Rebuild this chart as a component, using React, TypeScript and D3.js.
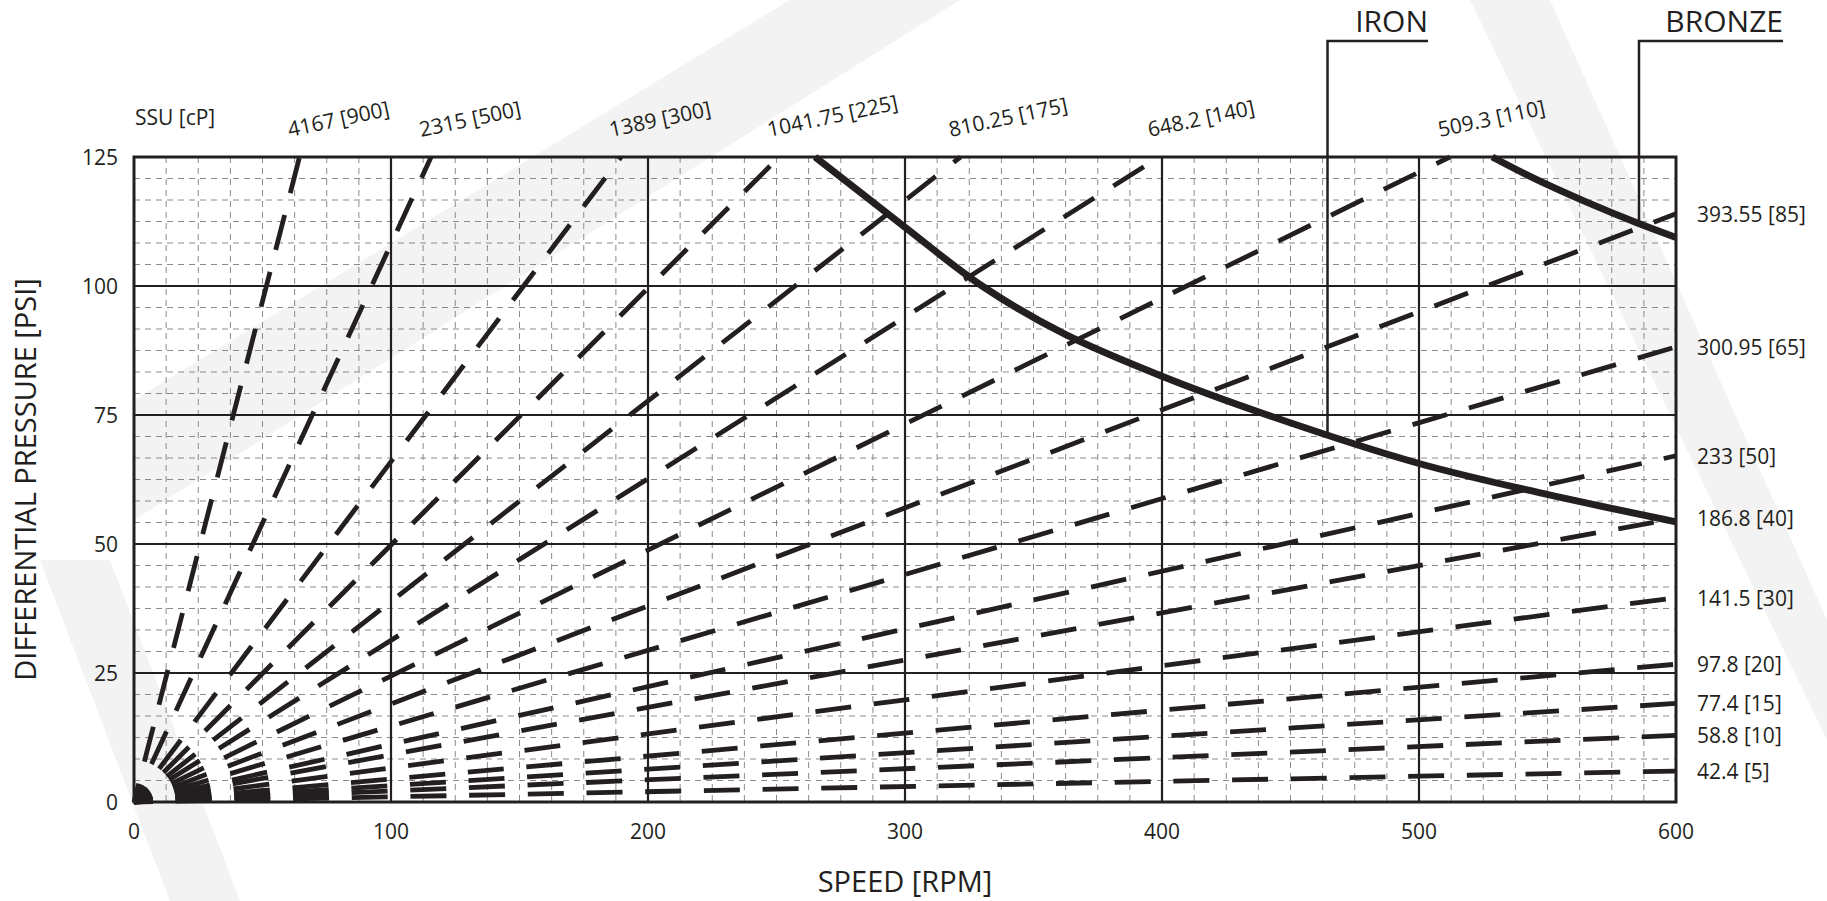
import React from 'react';
import * as d3 from 'd3';

// viscosity lines, SSU [cP]: straight from the origin to where they leave the grid
const ssuLabels = ['4167', '2315', '1389', '1041.75', '810.25', '648.2', '509.3', '393.55', '300.95', '233', '186.8', '141.5', '97.8', '77.4', '58.8', '42.4'];
const cpLabels = [900, 500, 300, 225, 175, 140, 110, 85, 65, 50, 40, 30, 20, 15, 10, 5];
const exitRpm = [64.4, 115.6, 189.5, 251, 321.6, 399, 512, 600, 600, 600, 600, 600, 600, 600, 600, 600];
const exitPsi = [125, 125, 125, 125, 125, 125, 125, 114, 88.2, 67.1, 55, 39.6, 26.7, 19.1, 12.9, 6];

// max pressure curves
const ironRpm = [265, 300, 330, 362, 400, 441, 500, 549, 600];
const ironPsi = [125, 111.4, 100, 90.7, 82.5, 75, 65.6, 59.7, 54.3];
const bronzeRpm = [528.5, 545, 565, 585, 600];
const bronzePsi = [125, 120.8, 116.3, 112.2, 109.4];

// where the leader lines touch the curves
const calloutNames = ['IRON', 'BRONZE'];
const calloutRpm = [464.4, 585.6];
const calloutPsi = [71.3, 112.1];

const xTicks = [0, 100, 200, 300, 400, 500, 600];
const yTicks = [0, 25, 50, 75, 100, 125];

const W = 1827;
const H = 901;
const ink = '#231f20';
const font = '"Open Sans", "DejaVu Sans", sans-serif';

const App: React.FC = () => {
  const x = d3.scaleLinear().domain([0, 600]).range([134, 1676]);
  const y = d3.scaleLinear().domain([0, 125]).range([802, 157]);

  const xMinor = d3.range(0, 600, 12.5).filter(v => v % 100 !== 0);
  const yMinor = d3.range(0, 125, 25 / 6).filter((_, i) => i % 6 !== 0);

  const curve = d3.line<[number, number]>()
    .x(d => x(d[0]))
    .y(d => y(d[1]))
    .curve(d3.curveCatmullRom);

  const iron = curve(ironRpm.map((r, i) => [r, ironPsi[i]]) as [number, number][]) || '';
  const bronze = curve(bronzeRpm.map((r, i) => [r, bronzePsi[i]]) as [number, number][]) || '';

  // leader lines run up to y=41 and then right to the label end
  const labelEnd = [1428, 1783];

  return (
    <svg width={W} height={H} style={{ position: 'absolute', left: 0, top: 0, background: '#fff' }}>
      {/* faint logo watermark */}
      <g fill="#f3f3f3">
        <polygon points="134,400 134,520 960,0 790,0" />
        <polygon points="1470,0 1550,0 1827,620 1827,740" />
        <polygon points="40,560 110,560 240,901 170,901" />
      </g>

      {/* minor grid */}
      <g stroke="#8a8a8a" strokeWidth={1} strokeDasharray="6 5">
        {xMinor.map(v => (
          <line key={'xm' + v} x1={x(v)} x2={x(v)} y1={y(125)} y2={y(0)} />
        ))}
        {yMinor.map(v => (
          <line key={'ym' + v} x1={x(0)} x2={x(600)} y1={y(v)} y2={y(v)} />
        ))}
      </g>

      {/* major grid */}
      <g stroke={ink} strokeWidth={2.2}>
        {xTicks.slice(1, -1).map(v => (
          <line key={'xg' + v} x1={x(v)} x2={x(v)} y1={y(125)} y2={y(0)} />
        ))}
        {yTicks.slice(1, -1).map(v => (
          <line key={'yg' + v} x1={x(0)} x2={x(600)} y1={y(v)} y2={y(v)} />
        ))}
      </g>

      {/* viscosity lines */}
      <g stroke={ink} strokeWidth={4.8} strokeDasharray="36 22.7" strokeDashoffset={17}>
        {ssuLabels.map((s, i) => (
          <line key={'v' + s} x1={x(0)} y1={y(0)} x2={x(exitRpm[i])} y2={y(exitPsi[i])} />
        ))}
      </g>

      {/* max pressure curves */}
      <path d={iron} fill="none" stroke={ink} strokeWidth={7} />
      <path d={bronze} fill="none" stroke={ink} strokeWidth={7} />

      {/* callouts */}
      {calloutNames.map((n, i) => (
        <g key={n}>
          <polyline
            points={`${x(calloutRpm[i])},${y(calloutPsi[i])} ${x(calloutRpm[i])},41 ${labelEnd[i]},41`}
            fill="none" stroke={ink} strokeWidth={2.5}
          />
          <text x={labelEnd[i]} y={32} textAnchor="end" fontFamily={font} fontSize={30} fill={ink}>{n}</text>
        </g>
      ))}

      {/* plot frame */}
      <rect x={x(0)} y={y(125)} width={x(600) - x(0)} height={y(0) - y(125)} fill="none" stroke={ink} strokeWidth={3} />

      {/* axes */}
      <g fontFamily={font} fontSize={21} fill={ink}>
        {xTicks.map(v => (
          <text key={'xt' + v} x={x(v)} y={831} textAnchor="middle" dominantBaseline="central">{v}</text>
        ))}
        {yTicks.map(v => (
          <text key={'yt' + v} x={118} y={y(v)} textAnchor="end" dominantBaseline="central">{v}</text>
        ))}
      </g>
      <text x={(x(0) + x(600)) / 2} y={880} textAnchor="middle" dominantBaseline="central" fontFamily={font} fontSize={29} fill={ink}>SPEED [RPM]</text>
      <text transform={`translate(24,${(y(0) + y(125)) / 2}) rotate(-90)`} textAnchor="middle" dominantBaseline="central" fontFamily={font} fontSize={29} fill={ink}>DIFFERENTIAL PRESSURE [PSI]</text>

      {/* viscosity labels */}
      <g fontFamily={font} fontSize={21} fill={ink}>
        <text x={135} y={125}>SSU [cP]</text>
        {ssuLabels.map((s, i) => exitPsi[i] === 125 ? (
          <text key={'tl' + s} transform={`translate(${x(exitRpm[i]) - 10},${y(125) - 20}) rotate(-12)`}>{`${s} [${cpLabels[i]}]`}</text>
        ) : (
          <text key={'rl' + s} x={x(600) + 21} y={y(exitPsi[i])} dominantBaseline="central">{`${s} [${cpLabels[i]}]`}</text>
        ))}
      </g>
    </svg>
  );
};

export default App;
